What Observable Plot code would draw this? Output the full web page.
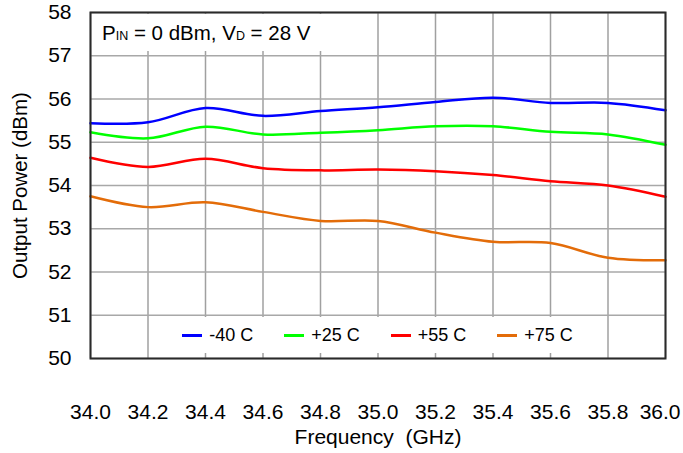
<!DOCTYPE html>
<html>
<head>
<meta charset="utf-8">
<script src="https://cdn.jsdelivr.net/npm/d3@7"></script>
<script src="https://cdn.jsdelivr.net/npm/@observablehq/plot@0.6"></script>
<style>
  html, body { margin: 0; padding: 0; background: #fff; }
  #wrap { position: relative; width: 683px; height: 453px; font-family: "Liberation Sans", Arial, sans-serif; color: #000; }
  #wrap svg { position: absolute; left: 0; top: 0; }
  .box { position: absolute; background: #fff; }
  #note { left: 92px; top: 14px; width: 283px; height: 37px; font-size: 20.5px; line-height: 37px; padding-left: 10px; box-sizing: border-box; white-space: nowrap; }
  #note .sub { font-size: 12.5px; }
  #legend { left: 149px; top: 317px; width: 457px; height: 36px; display: flex; justify-content: center; align-items: center; font-size: 18px; white-space: nowrap; }
  .item { display: flex; align-items: center; margin: 0 15.5px; }
  .swatch { width: 20px; height: 0; border-top: 3px solid; margin-right: 7px; }
</style>
</head>
<body>
<div id="wrap"></div>
<script>
const freqs = [34.0, 34.2, 34.4, 34.6, 34.8, 35.0, 35.2, 35.4, 35.6, 35.8, 36.0];
const seriesNames = ["-40 C", "+25 C", "+55 C", "+75 C"];
const seriesColors = ["#0000ff", "#00ff00", "#ff0000", "#e36c09"];
const minus40 = [55.44, 55.46, 55.79, 55.61, 55.72, 55.81, 55.93, 56.03, 55.91, 55.91, 55.74];
const plus25  = [55.23, 55.09, 55.36, 55.18, 55.22, 55.28, 55.37, 55.37, 55.24, 55.18, 54.94];
const plus55  = [54.64, 54.43, 54.62, 54.40, 54.35, 54.37, 54.33, 54.24, 54.10, 54.00, 53.74];
const plus75  = [53.75, 53.50, 53.61, 53.39, 53.18, 53.18, 52.91, 52.70, 52.67, 52.33, 52.27];
const xTicks = [34.0, 34.2, 34.4, 34.6, 34.8, 35.0, 35.2, 35.4, 35.6, 35.8, 36.0];
const yTicks = [50, 51, 52, 53, 54, 55, 56, 57, 58];
const xLabel = "Frequency  (GHz)";
const yLabel = "Output Power (dBm)";

const allSeries = [minus40, plus25, plus55, plus75];
const rows = [];
allSeries.forEach((vals, i) => vals.forEach((v, j) => rows.push({f: freqs[j], p: v, s: seriesNames[i]})));

const fmt = d3.format(".1f");
const lastTick = xTicks[xTicks.length - 1];

const chart = Plot.plot({
  width: 683,
  height: 453,
  marginLeft: 90,
  marginRight: 18,
  marginTop: 12,
  marginBottom: 95,
  style: {fontFamily: "Liberation Sans, Arial, sans-serif", fontSize: "21px", background: "transparent", color: "#000", overflow: "visible"},
  x: {domain: [34, 36], ticks: xTicks, tickFormat: fmt},
  y: {domain: [50, 58], ticks: yTicks},
  color: {domain: seriesNames, range: seriesColors},
  marks: [
    Plot.gridX(xTicks, {stroke: "#a0a0a0", strokeOpacity: 1, strokeWidth: 1.5}),
    Plot.gridY(yTicks, {stroke: "#a8a8a8", strokeOpacity: 1, strokeWidth: 1.5}),
    Plot.axisX(xTicks.slice(0, -1), {tickSize: 0, tickPadding: 46, tickFormat: fmt, label: null, fontSize: 21}),
    Plot.axisX([lastTick], {tickSize: 0, tickPadding: 46, tickFormat: fmt, label: null, fontSize: 21, textAnchor: "end", dx: 15}),
    Plot.axisY(yTicks, {tickSize: 0, tickPadding: 19, label: null, fontSize: 21}),
    Plot.line(rows, {x: "f", y: "p", z: "s", stroke: "s", strokeWidth: 2.5, curve: "catmull-rom"}),
    Plot.frame({stroke: "#2a2a2a", strokeWidth: 2}),
    Plot.text([xLabel], {frameAnchor: "bottom", lineAnchor: "middle", textAnchor: "middle", dy: 79, text: d => d, fontSize: 21}),
    Plot.text([yLabel], {frameAnchor: "left", textAnchor: "middle", lineAnchor: "middle", dx: -70, rotate: -90, text: d => d, fontSize: 20.5})
  ]
});

const wrap = document.getElementById("wrap");
wrap.appendChild(chart);

const note = document.createElement("div");
note.id = "note";
note.className = "box";
note.innerHTML = 'P<span class="sub">IN</span> = 0 dBm, V<span class="sub">D</span> = 28 V';
wrap.appendChild(note);

const legend = document.createElement("div");
legend.id = "legend";
legend.className = "box";
seriesNames.forEach((name, i) => {
  const item = document.createElement("div");
  item.className = "item";
  const sw = document.createElement("span");
  sw.className = "swatch";
  sw.style.borderColor = seriesColors[i];
  const t = document.createElement("span");
  t.textContent = name;
  item.appendChild(sw);
  item.appendChild(t);
  legend.appendChild(item);
});
wrap.appendChild(legend);
</script>
</body>
</html>
